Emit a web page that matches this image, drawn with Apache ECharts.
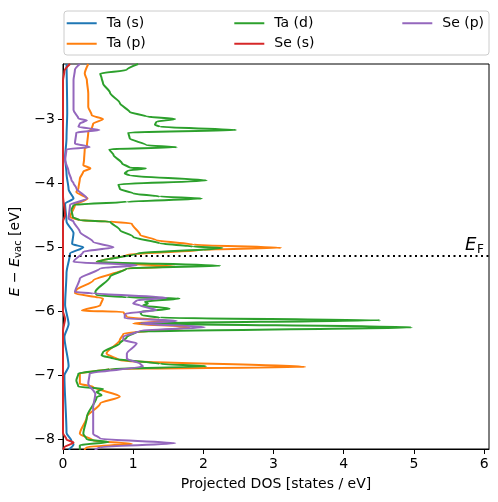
<!DOCTYPE html>
<html>
<head>
<meta charset="utf-8">
<script src="https://cdn.jsdelivr.net/npm/echarts@6/dist/echarts.min.js"></script>
<style>html,body{margin:0;padding:0;background:#fff;}#c{width:498px;height:502px;}</style>
</head>
<body>
<div id="c"></div>
<script>
// ---- data: [DOS, energy] pairs ----
const taS = [[0.05,-2.14],[0.06,-2.9],[0.05,-3.3],[0.03,-3.6],[0.05,-3.85],[0.08,-4.1],[0.15,-4.24],[0.03,-4.32],[0.05,-4.6],[0.15,-4.78],[0.13,-4.95],[0.29,-5.0],[0.10,-5.1],[0.05,-5.4],[0.03,-5.9],[0.08,-6.2],[0.02,-6.4],[0.08,-6.86],[0.02,-7.0],[0.05,-7.9],[0.12,-8.02],[0.15,-8.08],[0.08,-8.16]];
const taP = [[0.36,-2.14],[0.31,-2.29],[0.34,-2.39],[0.36,-2.60],[0.36,-2.81],[0.41,-2.94],[0.57,-3.00],[0.43,-3.07],[0.41,-3.15],[0.36,-3.20],[0.34,-3.43],[0.31,-3.46],[0.30,-3.64],[0.29,-3.72],[0.39,-3.77],[0.29,-3.82],[0.24,-3.93],[0.22,-4.08],[0.19,-4.14],[0.35,-4.24],[0.17,-4.34],[0.10,-4.53],[0.24,-4.58],[0.67,-4.60],[0.98,-4.63],[1.10,-4.81],[1.33,-4.89],[1.86,-4.96],[3.11,-5.01],[2.0,-5.04],[0.9,-5.12],[0.48,-5.23],[1.6,-5.30],[0.91,-5.33],[0.43,-5.52],[0.19,-5.67],[0.17,-5.72],[0.57,-5.80],[0.53,-5.91],[0.27,-5.99],[0.86,-6.01],[0.91,-6.09],[1.5,-6.15],[1.0,-6.19],[1.8,-6.25],[0.86,-6.35],[0.81,-6.45],[0.62,-6.66],[0.81,-6.77],[3.45,-6.87],[0.67,-6.90],[0.24,-6.97],[0.24,-7.13],[0.43,-7.18],[0.81,-7.33],[0.53,-7.44],[0.34,-7.65],[0.24,-7.91],[0.43,-8.02],[0.98,-8.07],[0.34,-8.12],[0.30,-8.16]];
const taD = [[1.07,-2.14],[0.91,-2.23],[0.53,-2.29],[0.55,-2.36],[0.57,-2.44],[0.67,-2.59],[0.81,-2.75],[0.95,-2.89],[1.19,-2.96],[1.60,-3.00],[1.33,-3.04],[1.31,-3.09],[1.38,-3.12],[2.47,-3.17],[0.93,-3.21],[0.95,-3.30],[1.19,-3.41],[1.62,-3.44],[0.66,-3.47],[0.72,-3.56],[0.84,-3.69],[0.95,-3.76],[1.18,-3.77],[0.93,-3.80],[0.88,-3.85],[0.95,-3.88],[2.05,-3.96],[0.79,-4.02],[0.81,-4.09],[1.0,-4.16],[1.38,-4.21],[1.98,-4.24],[0.91,-4.29],[0.15,-4.34],[0.12,-4.42],[0.14,-4.53],[0.24,-4.58],[0.67,-4.60],[0.81,-4.73],[1.0,-4.84],[1.38,-4.94],[1.85,-4.99],[2.27,-5.01],[1.05,-5.10],[0.48,-5.23],[2.24,-5.29],[0.91,-5.33],[0.67,-5.46],[0.46,-5.70],[0.48,-5.75],[0.91,-5.78],[1.66,-5.80],[1.17,-5.85],[1.21,-5.88],[1.14,-5.91],[1.52,-5.96],[1.10,-6.01],[1.12,-6.06],[1.38,-6.10],[4.52,-6.14],[1.10,-6.19],[4.97,-6.25],[1.05,-6.32],[0.91,-6.40],[0.81,-6.50],[0.57,-6.64],[0.55,-6.69],[0.72,-6.74],[1.38,-6.82],[2.04,-6.86],[0.67,-6.90],[0.22,-6.97],[0.19,-7.08],[0.22,-7.18],[0.57,-7.21],[0.48,-7.26],[0.55,-7.31],[0.48,-7.34],[0.34,-7.65],[0.29,-7.91],[0.34,-8.00],[0.65,-8.04],[0.24,-8.09],[0.24,-8.16]];
const seS = [[0.10,-2.14],[0.02,-2.25],[0.0,-2.4],[0.0,-4.2],[0.03,-4.5],[0.0,-4.6],[0.0,-6.0],[0.03,-6.12],[0.0,-6.3],[0.0,-7.9],[0.05,-8.0],[0.15,-8.05],[0.02,-8.12],[0.0,-8.16]];
const seP = [[0.24,-2.14],[0.17,-2.23],[0.15,-2.39],[0.15,-2.86],[0.22,-2.99],[0.34,-3.02],[0.24,-3.07],[0.22,-3.12],[0.52,-3.17],[0.19,-3.21],[0.17,-3.38],[0.38,-3.44],[0.05,-3.47],[0.03,-3.64],[0.08,-3.82],[0.12,-3.95],[0.15,-4.0],[0.19,-4.08],[0.34,-4.24],[0.10,-4.34],[0.08,-4.55],[0.15,-4.60],[0.24,-4.76],[0.43,-4.92],[0.72,-5.0],[0.29,-5.07],[0.15,-5.23],[1.05,-5.28],[0.53,-5.33],[0.24,-5.49],[0.17,-5.70],[0.43,-5.72],[1.48,-5.79],[1.05,-5.83],[1.0,-5.88],[1.10,-5.91],[1.33,-5.98],[0.88,-6.04],[0.88,-6.11],[1.62,-6.15],[1.10,-6.19],[2.02,-6.25],[1.10,-6.30],[0.86,-6.40],[0.86,-6.45],[1.05,-6.50],[0.91,-6.66],[0.91,-6.74],[1.10,-6.82],[1.14,-6.86],[0.38,-6.97],[0.36,-7.13],[0.46,-7.29],[0.43,-7.50],[0.43,-7.91],[0.53,-7.99],[1.60,-8.06],[0.53,-8.12],[0.45,-8.16]];
const seriesNames = ['Ta (s)','Ta (p)','Ta (d)','Se (s)','Se (p)'];
const xTicks = [0,1,2,3,4,5,6];
const yTicks = [-8,-7,-6,-5,-4,-3];
const fermiLevel = -5.14;

const colors = ['#1f77b4','#ff7f0e','#2ca02c','#d62728','#9467bd'];
const allData = [taS, taP, taD, seS, seP];
const FONT = 'DejaVu Sans';
const minus = v => String(v).replace('-', '\u2212');

const chart = echarts.init(document.getElementById('c'), null, {renderer:'canvas'});
const series = allData.map((d,i) => ({
  name: seriesNames[i], type:'line', data:d, symbol:'none',
  smooth:0.25, smoothMonotone:'y',
  lineStyle:{color:colors[i], width:2}, itemStyle:{color:colors[i]}, z: 2+i
}));
series[0].markLine = {
  silent:true, symbol:'none', animation:false,
  label:{show:false},
  lineStyle:{color:'#000', type:[2,3.5], width:2},
  data:[{yAxis: fermiLevel}]
};
const legendBase = {
  orient:'vertical', top:16, itemWidth:30, itemHeight:2, itemGap:6, padding:0,
  icon:'rect', selectedMode:false,
  textStyle:{fontFamily:FONT, fontSize:14, lineHeight:14.5, color:'#000', padding:[0,0,0,5]}
};
chart.setOption({
  animation:false,
  textStyle:{fontFamily:FONT},
  grid:{left:63, right:9, top:64, bottom:53, show:true, borderColor:'#000', borderWidth:1, backgroundColor:'transparent'},
  legend:[
    Object.assign({}, legendBase, {left:66.7, data:['Ta (s)','Ta (p)']}),
    Object.assign({}, legendBase, {left:234.3, data:['Ta (d)','Se (s)']}),
    Object.assign({}, legendBase, {left:402.3, data:['Se (p)']})
  ],
  xAxis:{
    type:'value', min:0, max:6.07,
    name:'Projected DOS [states / eV]', nameLocation:'middle', nameGap:28,
    nameTextStyle:{fontFamily:FONT, fontSize:14, color:'#000'},
    axisLine:{show:true, lineStyle:{color:'#000', width:1}},
    axisTick:{show:true, length:5, lineStyle:{color:'#000'}, customValues:xTicks},
    axisLabel:{fontFamily:FONT, fontSize:14, color:'#000', margin:8, customValues:xTicks, formatter:minus},
    splitLine:{show:false}
  },
  yAxis:{
    type:'value', min:-8.15, max:-2.14,
    name:'{i|E} \u2212 {i|E}{s|vac} [eV]', nameLocation:'middle', nameGap:40,
    nameTextStyle:{fontFamily:FONT, fontSize:14, color:'#000', padding:[0,0,0,10],
      rich:{i:{fontFamily:FONT, fontSize:14, fontStyle:'italic', color:'#000'},
            s:{fontFamily:FONT, fontSize:10, color:'#000', padding:[6,0,0,0]}}},
    axisLine:{show:true, lineStyle:{color:'#000', width:1}},
    axisTick:{show:true, length:5, lineStyle:{color:'#000'}, customValues:yTicks},
    axisLabel:{fontFamily:FONT, fontSize:14, color:'#000', margin:8, customValues:yTicks, formatter:minus},
    splitLine:{show:false}
  },
  graphic:[
    {type:'rect', z:-1, shape:{x:64, y:11, width:425, height:44, r:3},
     style:{fill:'rgba(255,255,255,0.8)', stroke:'#cccccc', lineWidth:1}},
    {type:'text', z:10, style:{x:465, y:245, text:'E', fontFamily:FONT, fontSize:18, fontStyle:'italic', fill:'#000', verticalAlign:'middle'}},
    {type:'text', z:10, style:{x:477, y:249.5, text:'F', fontFamily:FONT, fontSize:12, fill:'#000', verticalAlign:'middle'}}
  ],
  series: series
});
</script>
</body>
</html>
